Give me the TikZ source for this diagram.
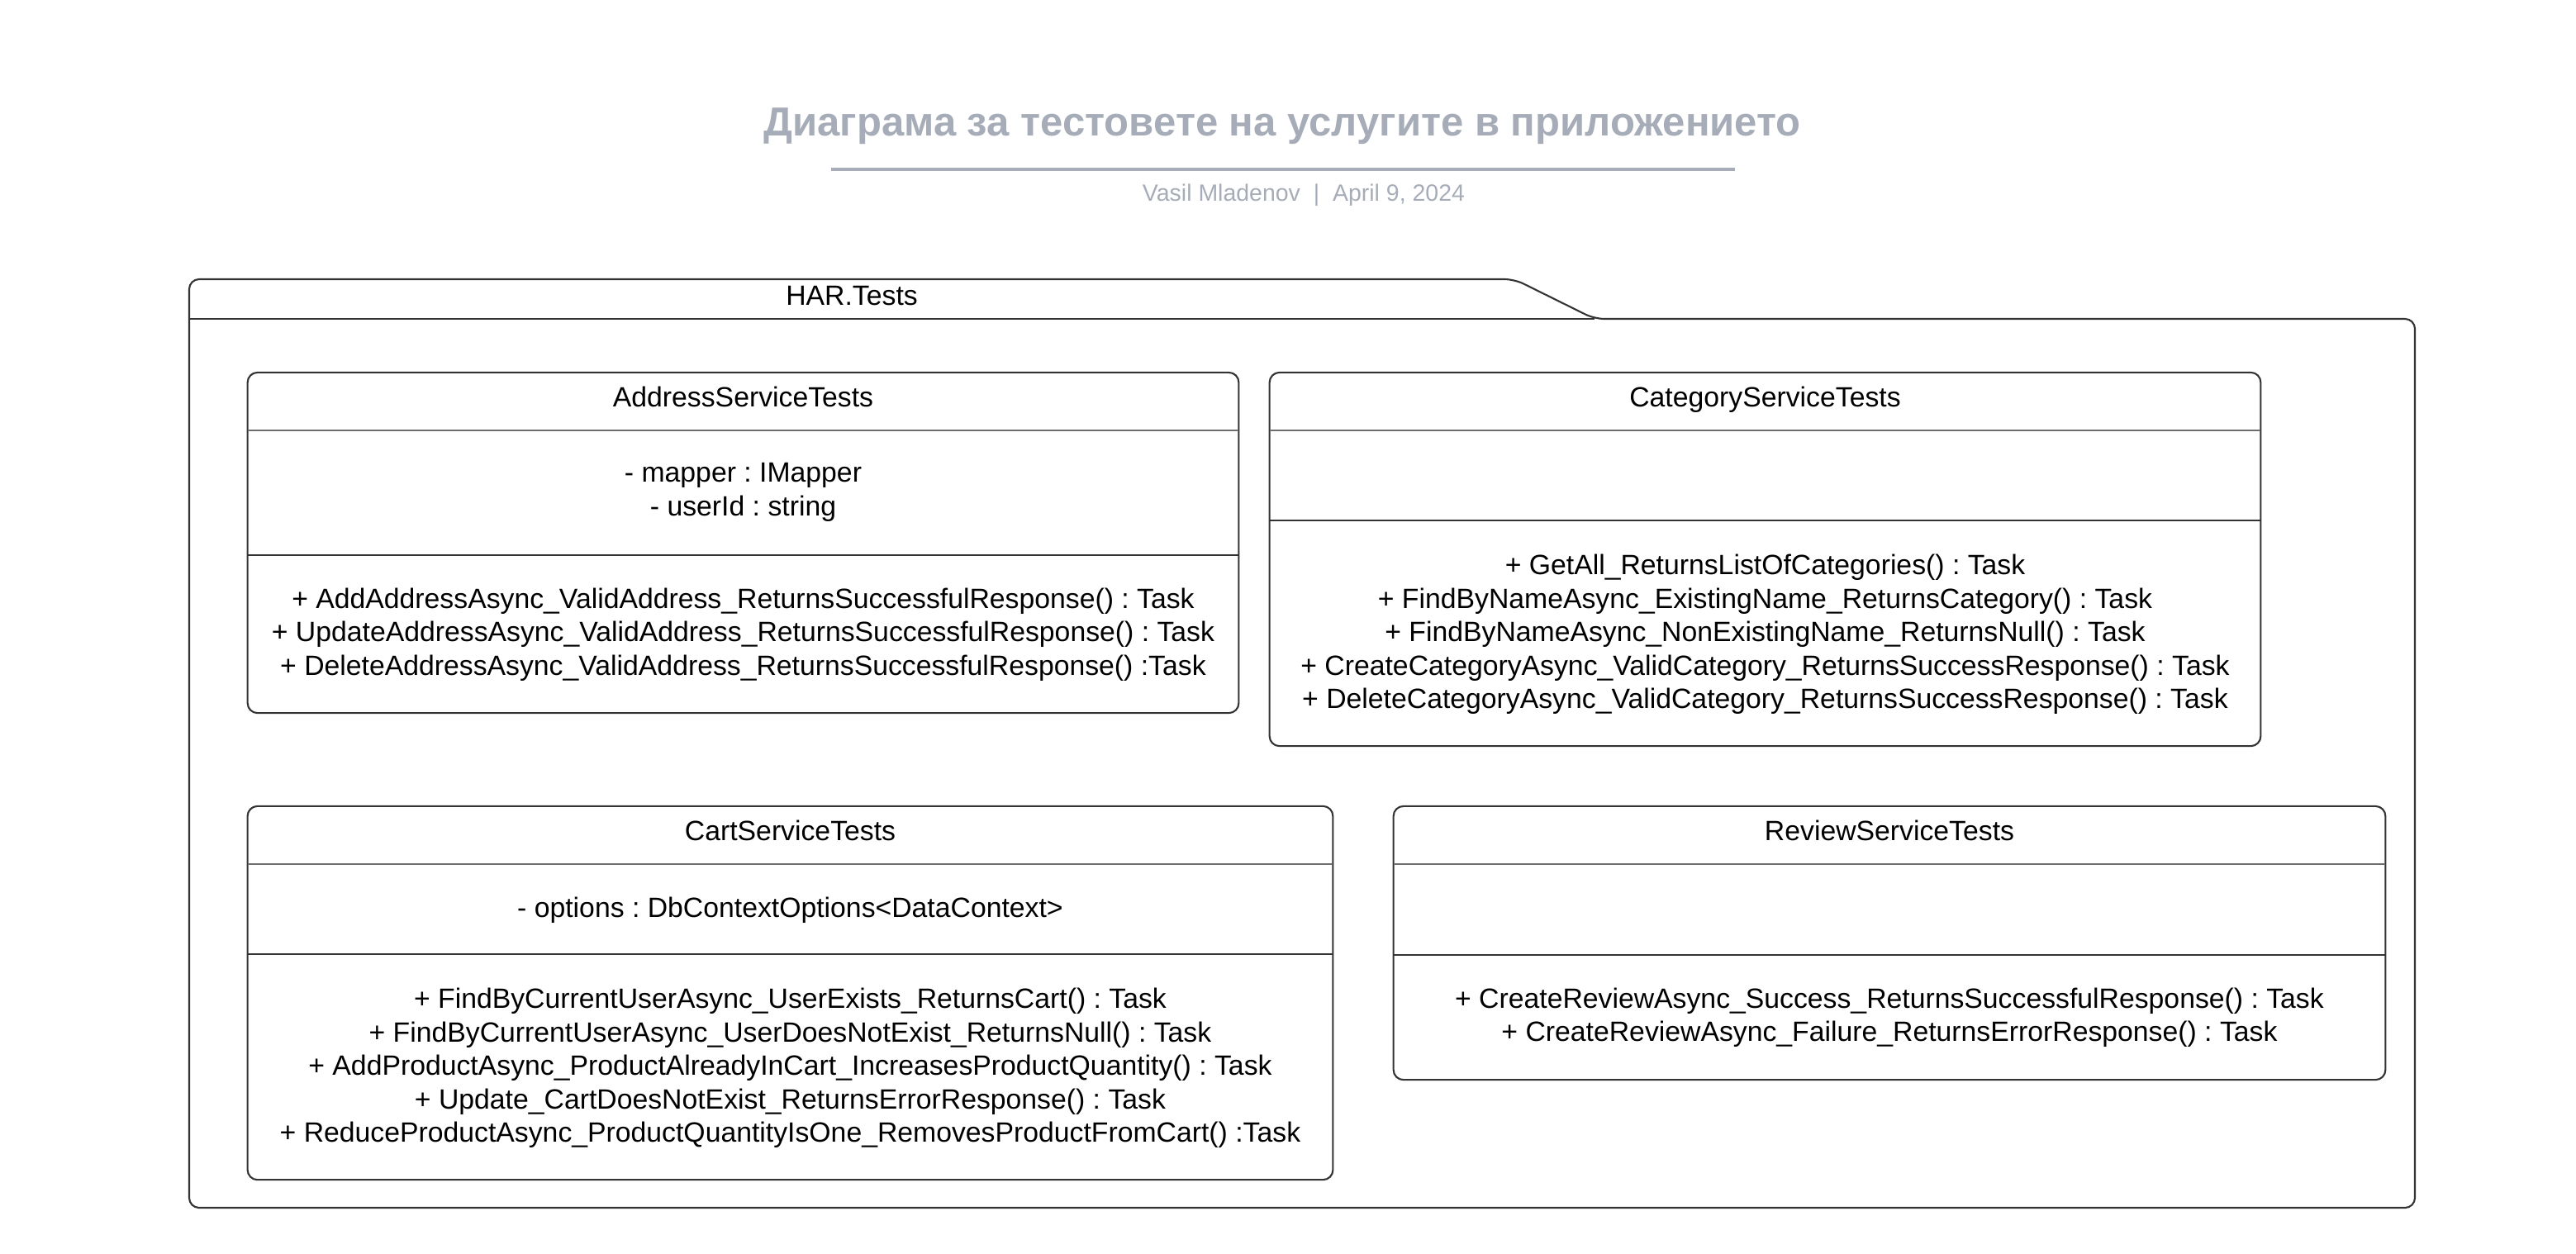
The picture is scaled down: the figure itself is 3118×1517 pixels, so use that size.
\documentclass[tikz,border=0pt]{standalone}
\usepackage{fontspec}
\setmainfont{Liberation Sans}
\usetikzlibrary{positioning}
\definecolor{slate}{HTML}{A7ADB8}
\definecolor{ink}{HTML}{333333}
\definecolor{rulegray}{HTML}{6E6E6E}
\frenchspacing
\tikzset{
  classbox/.style={
    rectangle, draw=ink, line width=0.6pt, rounded corners=0.12cm,
    inner sep=0pt, outer sep=0pt
  },
  membertext/.style={
    font=\fontsize{9.6}{11.5}\selectfont, align=center,
    inner sep=0pt, text=black
  },
  classname/.style={membertext, anchor=base},
  thinrule/.style={draw=rulegray, line width=0.4pt},
  thickrule/.style={draw=ink, line width=0.6pt},
  pkgline/.style={draw=ink, line width=0.6pt, rounded corners=0.12cm},
}

\begin{document}
\begin{tikzpicture}[x=0.01cm, y=-0.01cm]
  \useasboundingbox (0,0) rectangle (3118,1517);

  % title block
  \node[font=\fontsize{13.95}{16}\selectfont\bfseries, text=slate, inner sep=0pt]
    (title) at (1552,153) {Диаграма за тестовете на услугите в приложението};
  \coordinate (ruleL) at (1006,205);
  \coordinate (ruleR) at (2100,205);
  \draw[slate, line width=1.1pt] (ruleL) -- (ruleR);
  \node[font=\fontsize{8.1}{10}\selectfont, text=slate, inner sep=0pt]
    (author) at (1578,236) {Vasil Mladenov~~|~~April 9, 2024};

  % package frame
  \draw[pkgline] (229,386) -- (229,338) -- (1833,338) -- (1930,386)
    -- (2923,386) -- (2923,1462) -- (229,1462) -- cycle;
  \draw[thickrule] (229,386) -- (1930,386);
  \node[classname] (pkg) at (1031,369) {HAR.Tests};

  % AddressServiceTests
  \node[classbox, minimum width=11.99cm, minimum height=4.12cm]
    (addr) at (899.5,657) {};
  \node[classname] (addrName) at (899.5,492) {AddressServiceTests};
  \draw[thinrule] (addr.west |- 0,521) -- (addr.east |- 0,521);
  \node[membertext] (addrAttr) at (899.5,596) {- mapper : IMapper\\- userId : string};
  \draw[thickrule] (addr.west |- 0,672) -- (addr.east |- 0,672);
  \node[membertext] (addrOps) at (899.5,768)
    {+ AddAddressAsync\_ValidAddress\_ReturnsSuccessfulResponse() : Task\\
     + UpdateAddressAsync\_ValidAddress\_ReturnsSuccessfulResponse() : Task\\
     + DeleteAddressAsync\_ValidAddress\_ReturnsSuccessfulResponse() :Task};

  % CategoryServiceTests
  \node[classbox, minimum width=11.99cm, minimum height=4.52cm]
    (cat) at (2136.5,677) {};
  \node[classname] (catName) at (2136.5,492) {CategoryServiceTests};
  \draw[thinrule] (cat.west |- 0,521) -- (cat.east |- 0,521);
  \draw[thickrule] (cat.west |- 0,630) -- (cat.east |- 0,630);
  \node[membertext] (catOps) at (2136.5,768)
    {+ GetAll\_ReturnsListOfCategories() : Task\\
     + FindByNameAsync\_ExistingName\_ReturnsCategory() : Task\\
     + FindByNameAsync\_NonExistingName\_ReturnsNull() : Task\\
     + CreateCategoryAsync\_ValidCategory\_ReturnsSuccessResponse() : Task\\
     + DeleteCategoryAsync\_ValidCategory\_ReturnsSuccessResponse() : Task};

  % CartServiceTests
  \node[classbox, minimum width=13.13cm, minimum height=4.52cm]
    (cart) at (956.5,1202) {};
  \node[classname] (cartName) at (956.5,1017) {CartServiceTests};
  \draw[thinrule] (cart.west |- 0,1046) -- (cart.east |- 0,1046);
  \node[membertext] (cartAttr) at (956.5,1102) {- options : DbContextOptions<DataContext>};
  \draw[thickrule] (cart.west |- 0,1155) -- (cart.east |- 0,1155);
  \node[membertext] (cartOps) at (956.5,1293)
    {+ FindByCurrentUserAsync\_UserExists\_ReturnsCart() : Task\\
     + FindByCurrentUserAsync\_UserDoesNotExist\_ReturnsNull() : Task\\
     + AddProductAsync\_ProductAlreadyInCart\_IncreasesProductQuantity() : Task\\
     + Update\_CartDoesNotExist\_ReturnsErrorResponse() : Task\\
     + ReduceProductAsync\_ProductQuantityIsOne\_RemovesProductFromCart() :Task};

  % ReviewServiceTests
  \node[classbox, minimum width=12.00cm, minimum height=3.31cm]
    (review) at (2287,1141.5) {};
  \node[classname] (reviewName) at (2287,1017) {ReviewServiceTests};
  \draw[thinrule] (review.west |- 0,1046) -- (review.east |- 0,1046);
  \draw[thickrule] (review.west |- 0,1156) -- (review.east |- 0,1156);
  \node[membertext] (reviewOps) at (2287,1232)
    {+ CreateReviewAsync\_Success\_ReturnsSuccessfulResponse() : Task\\
     + CreateReviewAsync\_Failure\_ReturnsErrorResponse() : Task};
\end{tikzpicture}
\end{document}
